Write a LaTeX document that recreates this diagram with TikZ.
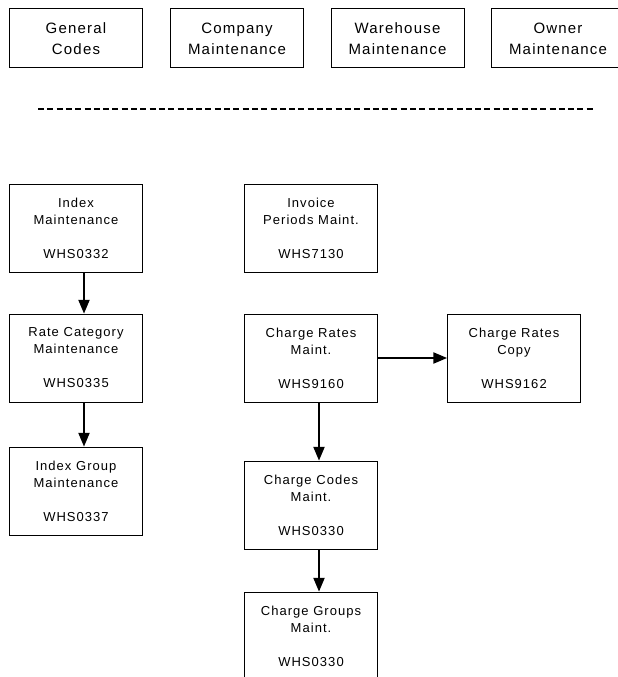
\documentclass[tikz,border=0pt]{standalone}
\usepackage{fontspec}
\setmainfont[LetterSpace=8]{Liberation Sans}
\usetikzlibrary{shapes.geometric, arrows}
\tikzstyle{topBox} = [rectangle, minimum width=133pt, minimum height=59pt, text centered, align=center, draw=black, line width=1pt, font=\fontsize{15}{21}\selectfont]
\tikzstyle{progBox} = [rectangle, minimum width=133pt, minimum height=88pt, text centered, align=center, draw=black, line width=1pt, font=\fontsize{13}{17}\selectfont]
\tikzstyle{divider} = [line width=2.5pt, dash pattern=on 6pt off 3.3pt]
\tikzstyle{arrow} = [line width=2.2pt,->,>=triangle 45]

\begin{document}
\begin{tikzpicture}[x=1pt,y=-1pt,node distance=130pt]
\clip (0,0) rectangle (618,677);

\node (general) [topBox] at (76,38.5) {General\\Codes};
\node (company) [topBox,right of=general,xshift=31pt] {Company\\Maintenance};
\node (warehouse) [topBox,right of=company,xshift=30.5pt] {Warehouse\\Maintenance};
\node (owner) [topBox,right of=warehouse,xshift=30.5pt] {Owner\\Maintenance};

\coordinate (dashStart) at (38,109);
\coordinate (dashEnd) at (593,109);
\draw [divider] (dashStart) -- (dashEnd);

\node (index) [progBox] at (76,228) {Index\\Maintenance\\[17pt]WHS0332};
\node (rateCat) [progBox,below of=index] {Rate Category\\Maintenance\\[17pt]WHS0335};
\node (indexGroup) [progBox,below of=rateCat,yshift=-3pt] {Index Group\\Maintenance\\[17pt]WHS0337};

\node (invoice) [progBox,right of=index,xshift=105pt] {Invoice\\Periods Maint.\\[17pt]WHS7130};
\node (chargeRates) [progBox,below of=invoice] {Charge Rates\\Maint.\\[17pt]WHS9160};
\node (ratesCopy) [progBox,right of=chargeRates,xshift=73pt] {Charge Rates\\Copy\\[17pt]WHS9162};
\node (chargeCodes) [progBox,below of=chargeRates,yshift=-17pt] {Charge Codes\\Maint.\\[17pt]WHS0330};
\node (chargeGroups) [progBox,below of=chargeCodes,yshift=-1pt] {Charge Groups\\Maint.\\[17pt]WHS0330};

\draw [arrow] ([xshift=8pt]index.south) -- ([xshift=8pt]rateCat.north);
\draw [arrow] ([xshift=8pt]rateCat.south) -- ([xshift=8pt]indexGroup.north);
\draw [arrow] (chargeRates.east) -- (ratesCopy.west);
\draw [arrow] ([xshift=8pt]chargeRates.south) -- ([xshift=8pt]chargeCodes.north);
\draw [arrow] ([xshift=8pt]chargeCodes.south) -- ([xshift=8pt]chargeGroups.north);
\end{tikzpicture}
\end{document}
